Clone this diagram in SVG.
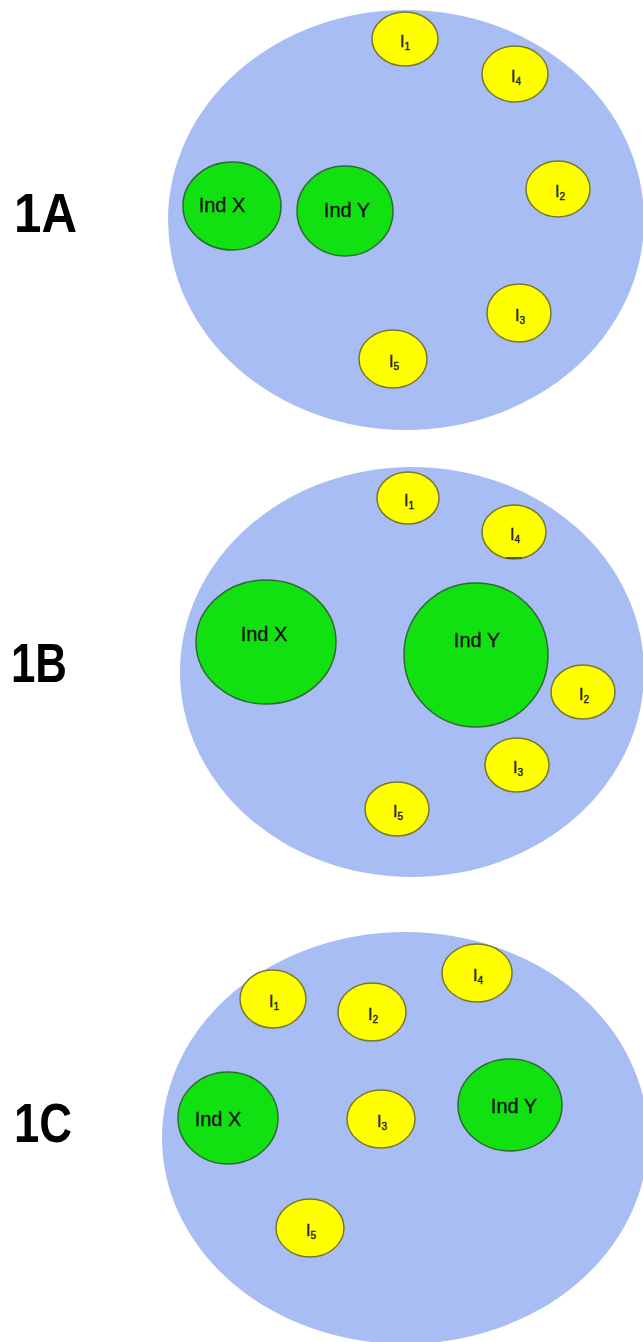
<svg xmlns="http://www.w3.org/2000/svg" width="643" height="1342" viewBox="0 0 643 1342">
<style>
.bg{fill:#a9bdf5;stroke:none}
.ind{fill:#11e011;stroke:#2f6a2f;stroke-width:1.5}
.it{fill:#ffff00;stroke:#77772f;stroke-width:1.5}
.lbl{font-family:"Liberation Sans",Arial,sans-serif;font-size:20px;fill:#111;stroke:#111;stroke-width:0.3;text-anchor:middle}
.il{font-family:"Liberation Sans",Arial,sans-serif;font-size:16px;fill:#222;stroke:#222;stroke-width:0.4;text-anchor:middle}
.sub{font-size:10px}
.big{font-family:"Liberation Sans",Arial,sans-serif;font-size:56px;font-weight:bold;fill:#000}
</style>
<rect width="643" height="1342" fill="#ffffff"/>

<!-- Panel 1A -->
<g id="panel-1A">
  <ellipse class="bg" cx="406" cy="220" rx="238" ry="210"/>
  <text class="big" x="14" y="232" textLength="63" lengthAdjust="spacingAndGlyphs">1A</text>
  <g id="A-indX"><ellipse class="ind" cx="232" cy="206" rx="49" ry="44"/><text class="lbl" x="222" y="212">Ind X</text></g>
  <g id="A-indY"><ellipse class="ind" cx="345" cy="211" rx="48" ry="45"/><text class="lbl" x="347" y="217">Ind Y</text></g>
  <g id="A-I1"><ellipse class="it" cx="405" cy="39" rx="33" ry="27"/><text class="il" x="405" y="47">I<tspan class="sub" dy="3">1</tspan></text></g>
  <g id="A-I4"><ellipse class="it" cx="515" cy="74" rx="33" ry="28"/><text class="il" x="516" y="82">I<tspan class="sub" dy="3">4</tspan></text></g>
  <g id="A-I2"><ellipse class="it" cx="558" cy="189" rx="32" ry="28"/><text class="il" x="560" y="197">I<tspan class="sub" dy="3">2</tspan></text></g>
  <g id="A-I3"><ellipse class="it" cx="519" cy="313" rx="32" ry="29"/><text class="il" x="520" y="321">I<tspan class="sub" dy="3">3</tspan></text></g>
  <g id="A-I5"><ellipse class="it" cx="393" cy="359" rx="34" ry="29"/><text class="il" x="394" y="367">I<tspan class="sub" dy="3">5</tspan></text></g>
</g>

<!-- Panel 1B -->
<g id="panel-1B">
  <ellipse class="bg" cx="412" cy="672" rx="232" ry="205"/>
  <text class="big" x="11" y="682" textLength="56" lengthAdjust="spacingAndGlyphs">1B</text>
  <g id="B-indX"><ellipse class="ind" cx="266" cy="642" rx="70" ry="62"/><text class="lbl" x="264" y="641">Ind X</text></g>
  <g id="B-indY"><ellipse class="ind" cx="476" cy="655" rx="72" ry="72"/><text class="lbl" x="477" y="647">Ind Y</text></g>
  <g id="B-I1"><ellipse class="it" cx="408" cy="498" rx="31" ry="26"/><text class="il" x="409" y="506">I<tspan class="sub" dy="3">1</tspan></text></g>
  <g id="B-I4"><ellipse class="it" cx="514" cy="532" rx="32" ry="27"/><text class="il" x="515" y="540">I<tspan class="sub" dy="3">4</tspan></text>
    <line x1="506" y1="558" x2="522" y2="558" stroke="#555533" stroke-width="2"/></g>
  <g id="B-I2"><ellipse class="it" cx="583" cy="692" rx="32" ry="27"/><text class="il" x="584" y="700">I<tspan class="sub" dy="3">2</tspan></text></g>
  <g id="B-I3"><ellipse class="it" cx="517" cy="765" rx="32" ry="27"/><text class="il" x="518" y="773">I<tspan class="sub" dy="3">3</tspan></text></g>
  <g id="B-I5"><ellipse class="it" cx="397" cy="809" rx="32" ry="27"/><text class="il" x="398" y="817">I<tspan class="sub" dy="3">5</tspan></text></g>
</g>

<!-- Panel 1C -->
<g id="panel-1C">
  <ellipse class="bg" cx="405" cy="1138" rx="243" ry="206"/>
  <text class="big" x="14" y="1142" textLength="58" lengthAdjust="spacingAndGlyphs">1C</text>
  <g id="C-indX"><ellipse class="ind" cx="228" cy="1118" rx="50" ry="46"/><text class="lbl" x="218" y="1126">Ind X</text></g>
  <g id="C-indY"><ellipse class="ind" cx="510" cy="1105" rx="52" ry="46"/><text class="lbl" x="514" y="1113">Ind Y</text></g>
  <g id="C-I1"><ellipse class="it" cx="273" cy="999" rx="33" ry="29"/><text class="il" x="274" y="1007">I<tspan class="sub" dy="3">1</tspan></text></g>
  <g id="C-I2"><ellipse class="it" cx="372" cy="1012" rx="34" ry="29"/><text class="il" x="373" y="1020">I<tspan class="sub" dy="3">2</tspan></text></g>
  <g id="C-I4"><ellipse class="it" cx="477" cy="973" rx="35" ry="29"/><text class="il" x="478" y="981">I<tspan class="sub" dy="3">4</tspan></text></g>
  <g id="C-I3"><ellipse class="it" cx="381" cy="1119" rx="34" ry="29"/><text class="il" x="382" y="1127">I<tspan class="sub" dy="3">3</tspan></text></g>
  <g id="C-I5"><ellipse class="it" cx="310" cy="1228" rx="34" ry="29"/><text class="il" x="311" y="1236">I<tspan class="sub" dy="3">5</tspan></text></g>
</g>

<g id="connectors"></g>
</svg>
